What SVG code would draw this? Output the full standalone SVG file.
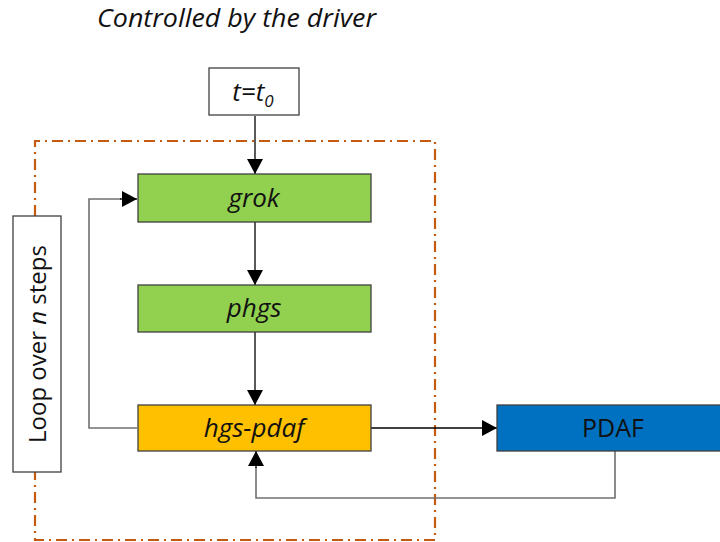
<svg xmlns="http://www.w3.org/2000/svg" width="720" height="542" viewBox="0 0 720 542">
<style>
text{font-family:"Open Sans","DejaVu Sans",sans-serif;fill:#111;}
.it{font-style:italic;}
.box{stroke:#404040;stroke-width:1.3;}
.c{fill:none;stroke:#000;stroke-width:1.3;}
.g{fill:none;stroke:#707070;stroke-width:1.6;}
</style>
<defs>
<marker id="ah" markerUnits="userSpaceOnUse" markerWidth="16" markerHeight="16" refX="15" refY="8" orient="auto">
<path d="M0,0 L15,8 L0,16 Z" fill="#000"/>
</marker>
</defs>
<rect width="720" height="542" fill="#fff"/>
<text x="97" y="27" font-size="25" class="it" textLength="279" lengthAdjust="spacingAndGlyphs">Controlled by the driver</text>
<path d="M35,216 V141 H435 V540 H35 V472" fill="none" stroke="#C55A11" stroke-width="2.2" stroke-dasharray="11,5,2,5"/>
<g id="connectors">
<path class="c" d="M255,116 V174" marker-end="url(#ah)"/>
<path class="c" d="M255,222 V285" marker-end="url(#ah)"/>
<path class="c" d="M255,332 V405" marker-end="url(#ah)"/>
<path class="c" d="M371,428 H497" marker-end="url(#ah)"/>
<path class="g" d="M137,428 H89 V199 H121"/>
<path class="c" d="M120,199 H137" marker-end="url(#ah)"/>
<path class="g" d="M615,451 V498 H256 V467"/>
<path class="c" d="M256,468 V451" marker-end="url(#ah)"/>
</g>
<g id="start">
<rect class="box" x="209" y="68" width="90" height="47" fill="#fff"/>
<text x="253" y="101" font-size="26" text-anchor="middle" class="it">t=t<tspan font-size="17" dy="6">0</tspan></text>
</g>
<g id="loop">
<rect class="box" x="13" y="216" width="48" height="256" fill="#fff"/>
<text transform="translate(46,344) rotate(-90)" font-size="24" text-anchor="middle">Loop over <tspan class="it">n</tspan> steps</text>
</g>
<g id="grok">
<rect class="box" x="138" y="174" width="233" height="48" fill="#92D050"/>
<text x="254" y="207" font-size="26" text-anchor="middle" class="it">grok</text>
</g>
<g id="phgs">
<rect class="box" x="138" y="285" width="233" height="47" fill="#92D050"/>
<text x="254" y="317" font-size="26" text-anchor="middle" class="it">phgs</text>
</g>
<g id="hgs-pdaf">
<rect class="box" x="138" y="405" width="233" height="46" fill="#FFC000"/>
<text x="254" y="437" font-size="26" text-anchor="middle" class="it">hgs-pdaf</text>
</g>
<g id="pdaf">
<rect class="box" x="497" y="405" width="234" height="46" fill="#0070C0"/>
<text x="613" y="437" font-size="25" text-anchor="middle">PDAF</text>
</g>
</svg>
